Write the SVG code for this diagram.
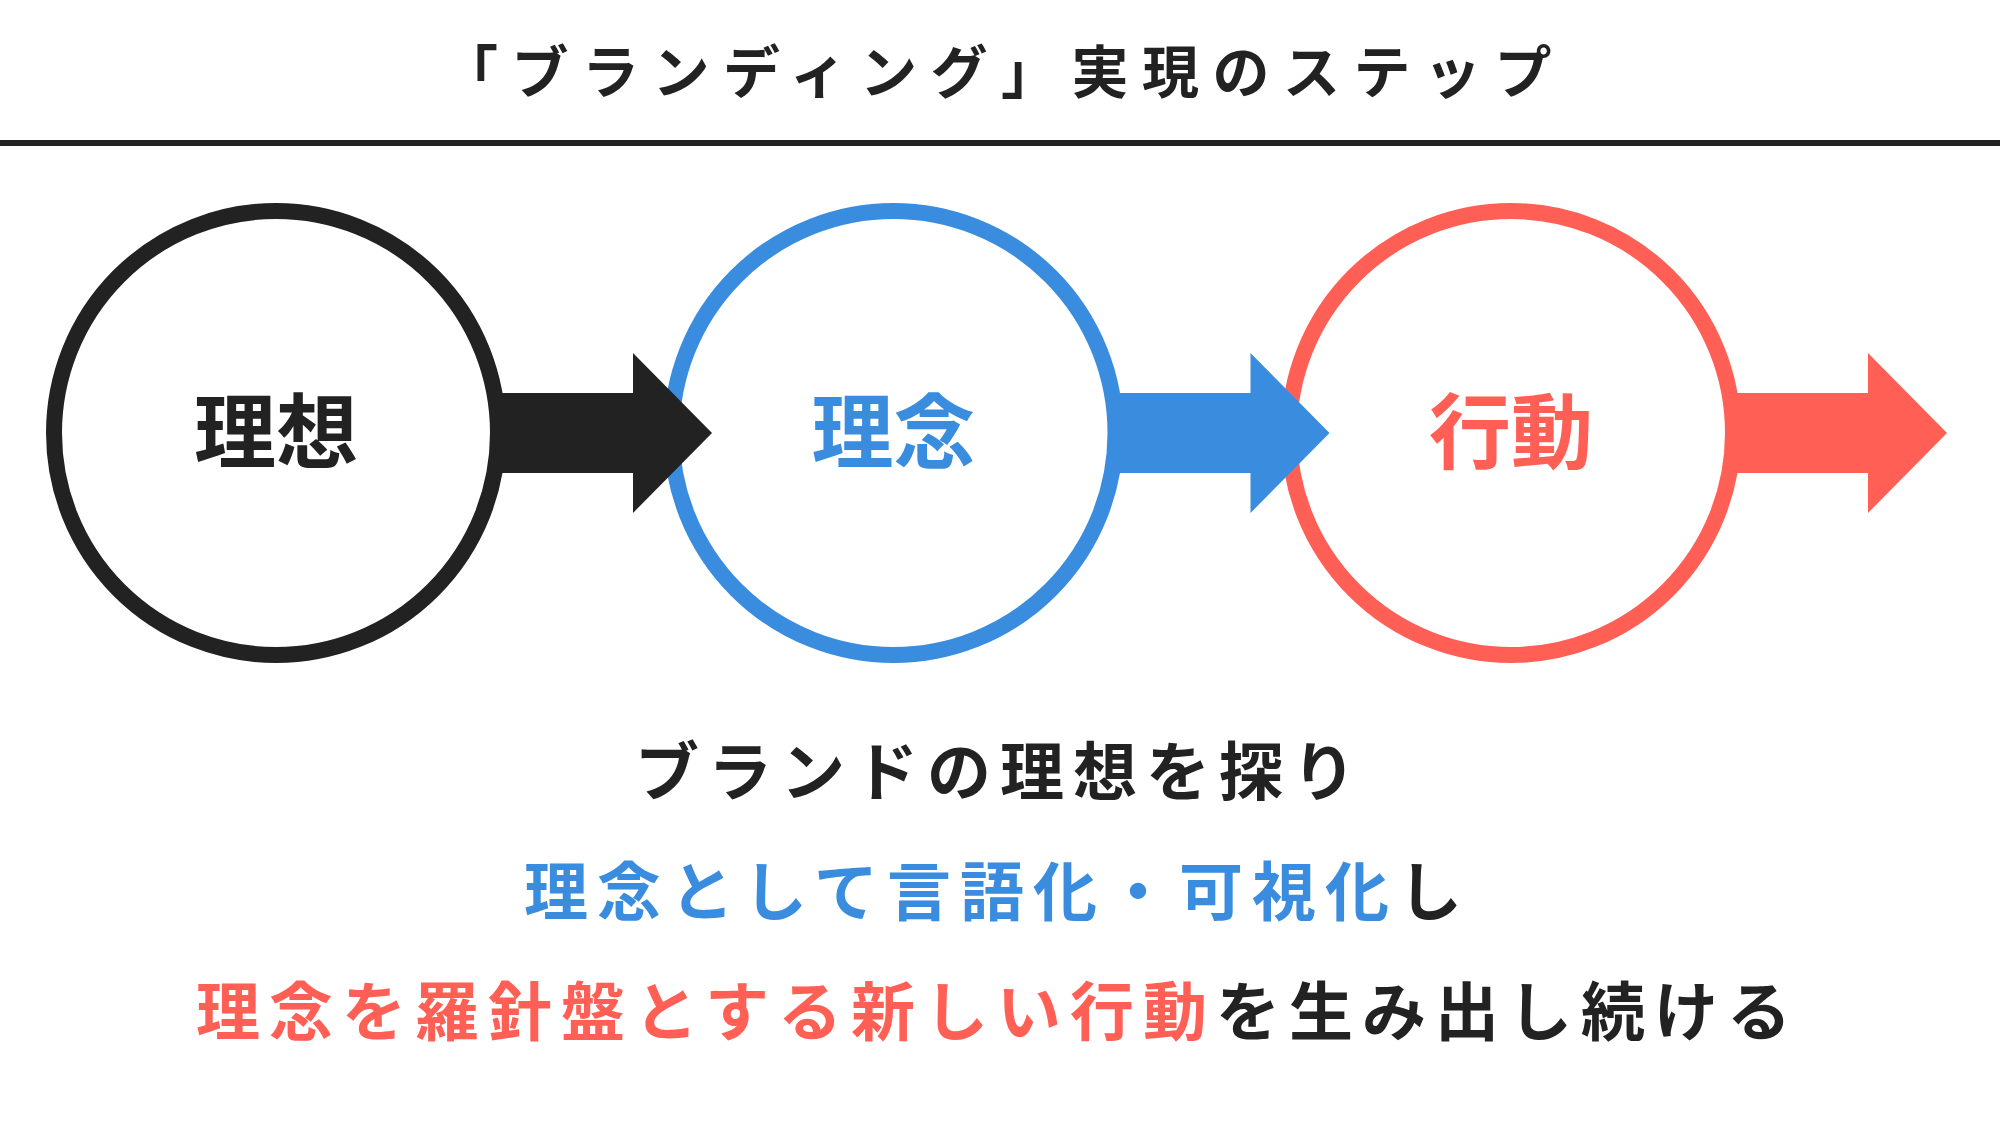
<svg xmlns="http://www.w3.org/2000/svg" width="2000" height="1125" viewBox="0 0 2000 1125">
  <style>
    text { font-family: "Noto Sans CJK JP", "Noto Sans", sans-serif; font-weight: 700; }
    .title { font-size: 57px; letter-spacing: 13.5px; fill: #222222; }
    .label { font-size: 82px; text-anchor: middle; }
    .body { font-size: 64px; letter-spacing: 9px; }
    .k { fill: #222222; }
    .b { fill: #3A8DDE; }
    .r { fill: #FF5F55; }
    .ring { fill: #FFFFFF; stroke-width: 16; }
  </style>
  <rect x="0" y="0" width="2000" height="1125" fill="#FFFFFF"/>
  <g id="header">
    <text class="title" x="441" y="93">「ブランディング」実現のステップ</text>
    <rect x="0" y="140" width="2000" height="6" fill="#222222"/>
  </g>
  <g id="node-ideal">
    <circle class="ring" cx="276" cy="433" r="222" stroke="#222222"/>
    <text class="label k" x="276" y="462">理想</text>
  </g>
  <g id="node-philosophy">
    <circle class="ring" cx="893.5" cy="433" r="222" stroke="#3A8DDE"/>
    <text class="label b" x="893.5" y="462">理念</text>
  </g>
  <g id="node-action">
    <circle class="ring" cx="1511" cy="433" r="222" stroke="#FF5F55"/>
    <text class="label r" x="1511" y="462">行動</text>
  </g>
  <g id="connectors">
    <polygon class="k" points="498,393 633,393 633,353 712,433 633,513 633,473 498,473"/>
    <polygon class="b" points="1115.5,393 1250.5,393 1250.5,353 1329.5,433 1250.5,513 1250.5,473 1115.5,473"/>
    <polygon class="r" points="1733,393 1868,393 1868,353 1947,433 1868,513 1868,473 1733,473"/>
  </g>
  <g id="caption">
    <text class="body k" x="635" y="795">ブランドの理想を探り</text>
    <text class="body" x="524" y="915"><tspan class="b">理念として言語化・可視化</tspan><tspan class="k">し</tspan></text>
    <text class="body" x="196" y="1035"><tspan class="r">理念を羅針盤とする新しい行動</tspan><tspan class="k">を生み出し続ける</tspan></text>
  </g>
</svg>
